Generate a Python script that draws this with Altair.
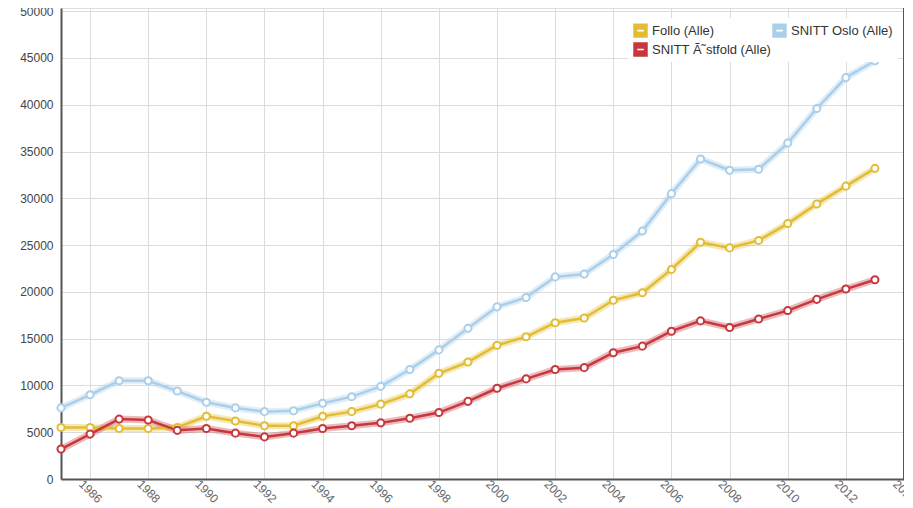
import altair as alt
import pandas as pd

years = [1985, 1986, 1987, 1988, 1989, 1990, 1991, 1992, 1993, 1994,
         1995, 1996, 1997, 1998, 1999, 2000, 2001, 2002, 2003, 2004,
         2005, 2006, 2007, 2008, 2009, 2010, 2011, 2012, 2013]
follo = [5500, 5500, 5400, 5400, 5500, 6700, 6200, 5700, 5700, 6700,
         7200, 8000, 9100, 11300, 12500, 14300, 15200, 16700, 17200, 19100,
         19900, 22400, 25300, 24700, 25500, 27300, 29400, 31300, 33200]
oslo = [7600, 9000, 10500, 10500, 9400, 8200, 7600, 7200, 7300, 8100,
        8800, 9900, 11700, 13800, 16100, 18400, 19400, 21600, 21900, 24000,
        26500, 30500, 34200, 33000, 33100, 35900, 39600, 42900, 44700]
ostfold = [3200, 4800, 6400, 6300, 5200, 5400, 4900, 4500, 4900, 5400,
           5700, 6000, 6500, 7100, 8300, 9700, 10700, 11700, 11900, 13500,
           14200, 15800, 16900, 16200, 17100, 18000, 19200, 20300, 21300]

# legend is laid out column by column: Follo / Østfold in column 1, Oslo in column 2
series_names = ["Follo (Alle)", "SNITT Ã˜stfold (Alle)", "SNITT Oslo (Alle)"]
series_values = [follo, ostfold, oslo]
colors = ["#e2bd34", "#c6383e", "#a9cfeb"]
x_ticks = [1986, 1988, 1990, 1992, 1994, 1996, 1998, 2000, 2002, 2004,
           2006, 2008, 2010, 2012, 2014]
y_ticks = [0, 5000, 10000, 15000, 20000, 25000, 30000, 35000, 40000, 45000, 50000]

rows = []
for name, vals in zip(series_names, series_values):
    for yr, v in zip(years, vals):
        rows.append({"year": yr, "value": v, "series": name})
df = pd.DataFrame(rows)

FONT = "Liberation Sans"

color_scale = alt.Scale(domain=series_names, range=colors)
legend_shape = "M-1,-1H1V1H-1Z M-0.45,-0.12V0.12H0.45V-0.12Z"
legend_def = alt.Legend(
    title=None, orient="none", legendX=567, legendY=10, columns=2,
    symbolType=legend_shape, symbolSize=210, symbolStrokeWidth=0,
    symbolOpacity=1,
    labelFont=FONT, labelFontSize=13, labelColor="#333",
    columnPadding=0, rowPadding=4, fillColor="white", padding=5,
    labelLimit=300, labelOffset=4,
)

x_enc = alt.X(
    "year:Q",
    scale=alt.Scale(domain=[1985, 2014], nice=False, zero=False),
    axis=alt.Axis(values=x_ticks, format="d", labelAngle=45, labelAlign="center",
                  labelBaseline="middle", title=None, ticks=False, labelPadding=12,
                  labelFontSize=12, labelColor="#666", labelFont=FONT,
                  domainColor="#555", domainWidth=2, gridColor="#dcdcdc",
                  labelOverlap=False, labelFlush=False),
)
y_enc = alt.Y(
    "value:Q",
    scale=alt.Scale(domain=[0, 50340], nice=False),
    axis=alt.Axis(values=y_ticks, format="d", title=None, ticks=False, labelPadding=8,
                  labelFontSize=12, labelColor="#444", labelFont=FONT,
                  domainColor="#555", domainWidth=2, gridColor="#dcdcdc"),
)

base = alt.Chart(df)

legend_layer = base.mark_point(shape=legend_shape, filled=True, size=0, opacity=0).encode(
    x=x_enc, y=y_enc,
    color=alt.Color("series:N", scale=color_scale, legend=legend_def),
)

halo = base.mark_line(strokeWidth=7, opacity=0.35).encode(
    x="year:Q", y="value:Q",
    color=alt.Color("series:N", scale=color_scale, legend=legend_def),
)

lines = base.mark_line(strokeWidth=2.5).encode(
    x="year:Q", y="value:Q",
    color=alt.Color("series:N", scale=color_scale, legend=legend_def),
)

points = base.mark_point(shape="circle", filled=True, fill="white", fillOpacity=1,
                         size=50, strokeWidth=2).encode(
    x="year:Q", y="value:Q",
    stroke=alt.Stroke("series:N", scale=color_scale, legend=None),
)

right_border = alt.Chart(pd.DataFrame({"year": [2014]})).mark_rule(
    color="#555", strokeWidth=2).encode(x="year:Q")

chart = alt.layer(legend_layer, halo, lines, points, right_border).properties(
    width=843, height=471,
    autosize=alt.AutoSizeParams(type="none"),
    padding={"left": 53, "top": 0, "right": 0, "bottom": 30},
).configure_view(stroke=None).configure(background="white")

chart.save("out.html", embed_options={"renderer": "svg", "actions": False})
